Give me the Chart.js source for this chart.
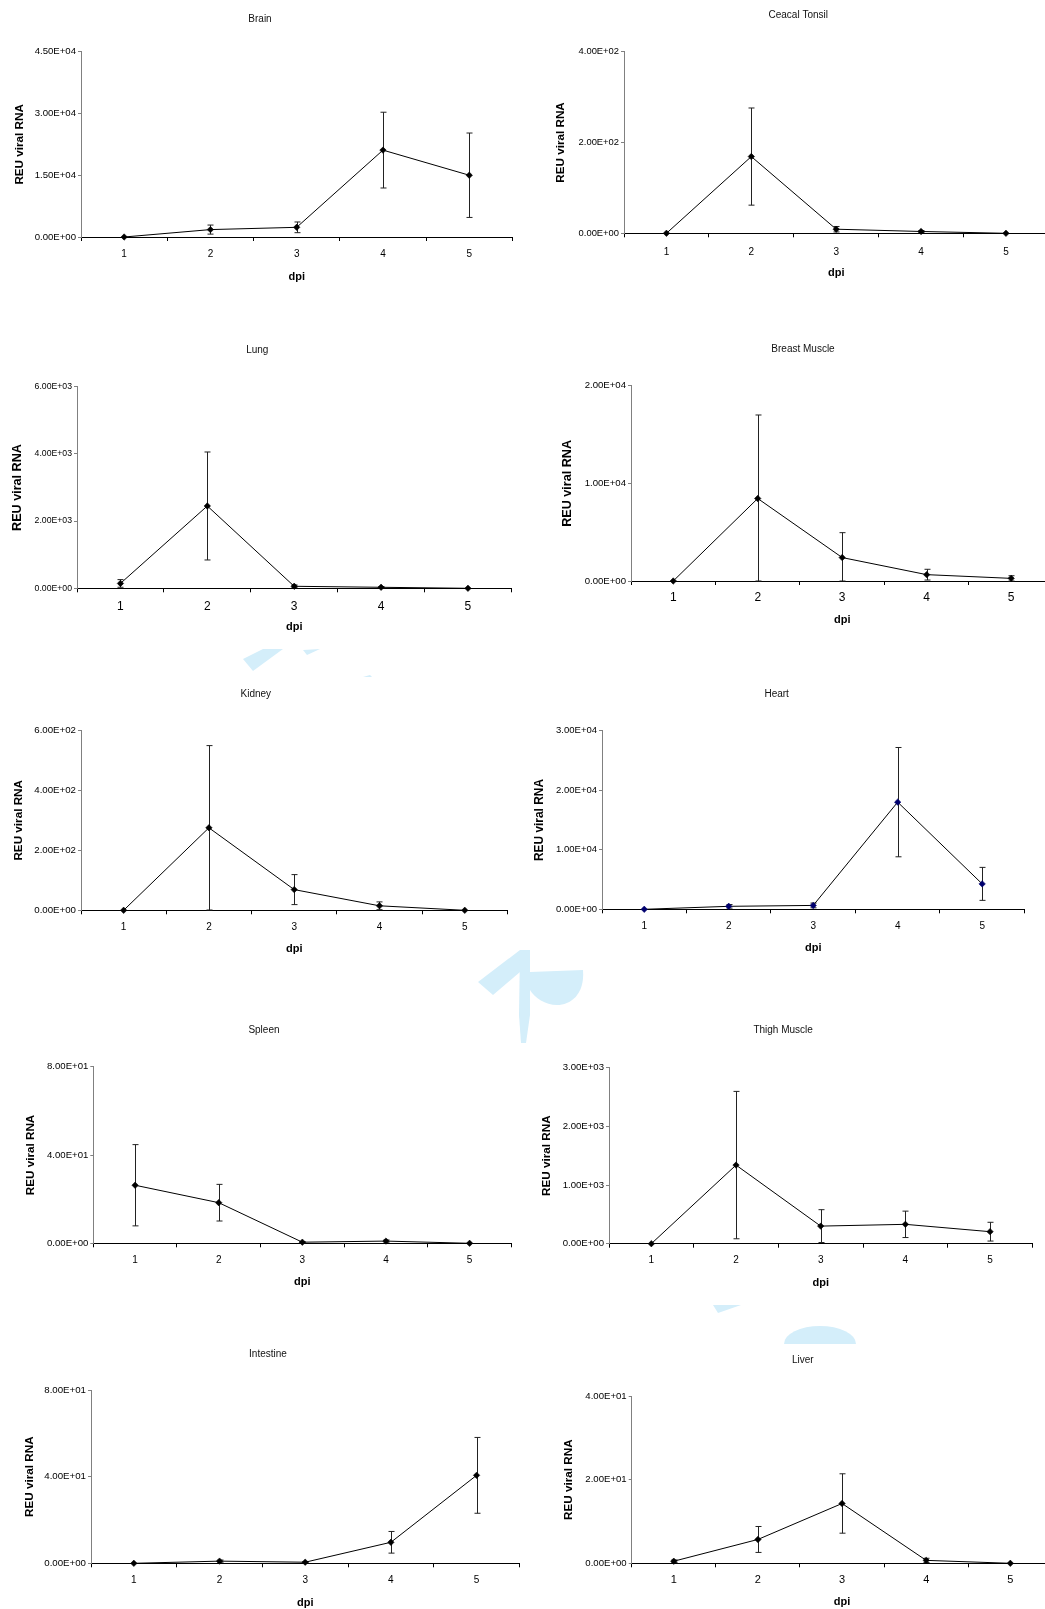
<!DOCTYPE html>
<html>
<head>
<meta charset="utf-8">
<script src="https://cdn.jsdelivr.net/npm/chart.js@4.4.1/dist/chart.umd.min.js"></script>
<style>
  html, body { margin: 0; padding: 0; background: #fff; }
  body { width: 1045px; height: 1609px; overflow: hidden; position: relative; }
  #wm { position: absolute; left: 0; top: 0; z-index: 0; }
  canvas { position: absolute; z-index: 1; }
</style>
</head>
<body>
<svg id="wm" width="1045" height="1609" viewBox="0 0 1045 1609">
  <g fill="#d4eefa">
    <polygon points="263,649 283,649 253,671 243,659"/>
    <polygon points="303,650 320,649 307,655"/>
    <polygon points="363,677 370,675 372,677"/>
    <polygon points="478,982 520,950 520,972 493,995"/>
    <polygon points="520,950 530,950 530,1015 526,1043 521,1043 519,1015"/>
    <path d="M530,972 L583,970 C585,995 570,1005 557,1005 C545,1005 535,998 530,990 Z"/>
    <path d="M784,1344 A36,18 0 0 1 856,1344 Z"/>
    <polygon points="713,1305 741,1305 718,1313"/>
  </g>
</svg>
<script>
// ---------- DATA ----------
const dpiLabels = ['1', '2', '3', '4', '5'];
const organs = ['Brain', 'Ceacal Tonsil', 'Lung', 'Breast Muscle', 'Kidney',
                'Heart', 'Spleen', 'Thigh Muscle', 'Intestine', 'Liver'];

const brainMean = [0, 1800, 2350, 21100, 15000];
const brainErr  = [0, 1100, 1300, 9200, 10250];
const brainTicks = [0, 15000, 30000, 45000];

const tonsilMean = [0, 169, 9, 4, 0];
const tonsilErr  = [0, 107, 6, 2, 0];
const tonsilTicks = [0, 200, 400];

const lungMean = [145, 2450, 60, 30, 0];
const lungErr  = [114, 1607, 40, 20, 0];
const lungTicks = [0, 2000, 4000, 6000];

const breastMean = [0, 8450, 2400, 650, 270];
const breastErr  = [0, 8550, 2550, 550, 270];
const breastTicks = [0, 10000, 20000];

const kidneyMean = [0, 275, 69, 15, 0];
const kidneyErr  = [0, 274, 50, 13, 0];
const kidneyTicks = [0, 200, 400, 600];

const heartMean = [0, 500, 650, 18000, 4270];
const heartErr  = [0, 300, 400, 9180, 2770];
const heartTicks = [0, 10000, 20000, 30000];

const spleenMean = [26.3, 18.4, 0.5, 1, 0];
const spleenErr  = [18.4, 8.3, 0.3, 0.5, 0];
const spleenTicks = [0, 40, 80];

const thighMean = [0, 1340, 300, 330, 205];
const thighErr  = [0, 1256, 280, 225, 160];
const thighTicks = [0, 1000, 2000, 3000];

const intestineMean = [0, 1, 0.5, 9.7, 40.6];
const intestineErr  = [0, 0.5, 0.3, 5, 17.5];
const intestineTicks = [0, 40, 80];

const liverMean = [0.5, 5.7, 14.3, 0.7, 0];
const liverErr  = [0.3, 3.1, 7.1, 0.5, 0];
const liverTicks = [0, 20, 40];

// ---------- LAYOUT (positions / styles only) ----------
const FONT = "'Liberation Sans', Arial, Helvetica, sans-serif";
const panels = [
  { title: organs[0], mean: brainMean, err: brainErr, ticks: brainTicks,
    pl: 81, pr: 513, pt: 51.7, pb: 237, tx: 262, ty: 19, yx: 20, xly: 254, dy: 277, fy: 9.6, fx: 10, fyt: 11.7 },
  { title: organs[1], mean: tonsilMean, err: tonsilErr, ticks: tonsilTicks,
    pl: 624, pr: 1049.5, pt: 51.7, pb: 233.3, tx: 800, ty: 15, yx: 561, xly: 252, dy: 273, fy: 9.4, fx: 10, fyt: 11.7 },
  { title: organs[2], mean: lungMean, err: lungErr, ticks: lungTicks,
    pl: 77, pr: 512.5, pt: 386.7, pb: 588.3, tx: 259, ty: 350, yx: 17.3, xly: 607, dy: 627.3, fy: 8.7, fx: 12, fyt: 12.6 },
  { title: organs[3], mean: breastMean, err: breastErr, ticks: breastTicks,
    pl: 631, pr: 1054, pt: 385.7, pb: 581, tx: 805, ty: 349, yx: 568, xly: 598, dy: 620, fy: 9.6, fx: 12, fyt: 12.6 },
  { title: organs[4], mean: kidneyMean, err: kidneyErr, ticks: kidneyTicks,
    pl: 81, pr: 507.6, pt: 730.3, pb: 910.3, tx: 258, ty: 694, yx: 19, xly: 927, dy: 949, fy: 9.7, fx: 10, fyt: 11.7 },
  { title: organs[5], mean: heartMean, err: heartErr, ticks: heartTicks,
    pl: 602, pr: 1025.3, pt: 730.7, pb: 909.3, tx: 778.7, ty: 694, yx: 540, xly: 926.7, dy: 948, fy: 9.5, fx: 10, fyt: 11.9, marker: '#00006e' },
  { title: organs[6], mean: spleenMean, err: spleenErr, ticks: spleenTicks,
    pl: 93.3, pr: 511.9, pt: 1066.7, pb: 1243.3, tx: 266, ty: 1030, yx: 31, xly: 1260, dy: 1282, fy: 9.6, fx: 10, fyt: 11.7 },
  { title: organs[7], mean: thighMean, err: thighErr, ticks: thighTicks,
    pl: 609, pr: 1033.3, pt: 1067.7, pb: 1243.7, tx: 785, ty: 1030.7, yx: 547, xly: 1260, dy: 1282.7, fy: 9.6, fx: 10, fyt: 11.7 },
  { title: organs[8], mean: intestineMean, err: intestineErr, ticks: intestineTicks,
    pl: 91, pr: 519.9, pt: 1390, pb: 1563.3, tx: 270, ty: 1354, yx: 30, xly: 1580, dy: 1602.7, fy: 9.7, fx: 10, fyt: 11.7 },
  { title: organs[9], mean: liverMean, err: liverErr, ticks: liverTicks,
    pl: 631.7, pr: 1052.7, pt: 1396, pb: 1563.3, tx: 805, ty: 1360, yx: 569, xly: 1580, dy: 1602, fy: 9.6, fx: 11, fyt: 11.7 }
];

function sci(v) {
  const s = Number(v).toExponential(2);
  const parts = s.split('e');
  const sign = parts[1][0] === '-' ? '-' : '+';
  const digits = parts[1].replace(/[+-]/, '').padStart(2, '0');
  return parts[0] + 'E' + sign + digits;
}

const errorBarPlugin = {
  id: 'errorBars',
  beforeDatasetsDraw(chart) {
    const ctx = chart.ctx;
    const ys = chart.scales.y;
    chart.data.datasets.forEach((ds, di) => {
      const meta = chart.getDatasetMeta(di);
      const errs = ds.errorBars || [];
      meta.data.forEach((pt, i) => {
        const v = ds.data[i];
        const e = errs[i];
        if (!e) return;
        const top = ys.getPixelForValue(Math.min(v + e, ys.max));
        const bot = ys.getPixelForValue(Math.max(v - e, ys.min));
        const x = Math.round(pt.x) + 0.5;
        const cap = 3;
        ctx.save();
        ctx.strokeStyle = '#222';
        ctx.lineWidth = 1;
        ctx.beginPath();
        ctx.moveTo(x, top); ctx.lineTo(x, bot);
        ctx.moveTo(x - cap, top); ctx.lineTo(x + cap, top);
        ctx.moveTo(x - cap, bot); ctx.lineTo(x + cap, bot);
        ctx.stroke();
        ctx.restore();
      });
    });
  }
};

Chart.defaults.font.family = FONT;

panels.forEach((p) => {
  const lhT = 10 * 1.2;
  const lhY = p.fyt * 1.2;
  const lhD = 11 * 1.2;
  const lhX = p.fx * 1.2;
  // horizontal extent: centre of canvas = title centre
  let L = Math.round(2 * p.tx - (p.pr + 4));
  const minL = p.yx - lhY / 2;
  if (L > minL) L = Math.floor(minL);
  const R = 2 * p.tx - L;
  const W = Math.round(R - L);
  const yAxisWidth = p.pl - L;
  const yTitlePad = Math.max(0, p.yx - L - lhY / 2);
  const rightPad = Math.max(0, (L + W) - p.pr);
  // vertical extent
  const T = Math.round(p.ty - lhT / 2 - 2);
  const titlePadTop = p.ty - lhT / 2 - T;
  const titlePadBottom = Math.max(0, p.pt - T - titlePadTop - lhT);
  const H = Math.round(p.dy + lhD / 2 + 1 - T);
  const xAxisHeight = (T + H) - p.pb;
  const dpiPad = Math.max(0, (T + H) - p.dy - lhD / 2);
  const xLabelPad = p.xly - p.pb - 4 - lhX / 2;

  const cv = document.createElement('canvas');
  cv.width = W; cv.height = H;
  cv.style.left = L + 'px'; cv.style.top = T + 'px';
  cv.style.width = W + 'px'; cv.style.height = H + 'px';
  document.body.appendChild(cv);

  const tickArr = p.ticks;
  const mk = p.marker || '#000';

  new Chart(cv, {
    type: 'line',
    data: {
      labels: dpiLabels,
      datasets: [{
        data: p.mean,
        errorBars: p.err,
        borderColor: '#000',
        borderWidth: 1,
        tension: 0,
        fill: false,
        clip: false,
        pointStyle: 'rectRot',
        pointRadius: 3.2,
        pointBorderWidth: 0.6,
        pointBackgroundColor: mk,
        pointBorderColor: mk
      }]
    },
    options: {
      responsive: false,
      animation: false,
      devicePixelRatio: window.devicePixelRatio || 1,
      layout: { padding: { left: 0, right: rightPad, top: 0, bottom: 0 } },
      plugins: {
        legend: { display: false },
        tooltip: { enabled: false },
        title: {
          display: true,
          text: p.title,
          color: '#111',
          font: { size: 10, weight: 'normal', family: FONT },
          padding: { top: titlePadTop, bottom: titlePadBottom }
        }
      },
      scales: {
        x: {
          type: 'category',
          offset: true,
          afterFit: (s) => { s.height = xAxisHeight; },
          ticks: { color: '#000', font: { size: p.fx, family: FONT }, padding: xLabelPad, maxRotation: 0, autoSkip: false },
          grid: { offset: true, drawOnChartArea: false, drawTicks: true, tickLength: 4, color: '#000', lineWidth: 1 },
          border: { display: true, color: '#000', width: 1 },
          title: { display: true, text: 'dpi', color: '#000', font: { size: 11, weight: 'bold', family: FONT }, padding: { top: 0, bottom: dpiPad } }
        },
        y: {
          min: tickArr[0],
          max: tickArr[tickArr.length - 1],
          afterBuildTicks: (s) => { s.ticks = tickArr.map(v => ({ value: v })); },
          afterFit: (s) => { s.width = yAxisWidth; },
          ticks: { color: '#000', font: { size: p.fy, family: FONT }, padding: 2, callback: (v) => sci(v) },
          grid: { drawOnChartArea: false, drawTicks: true, tickLength: 3, color: '#808080', lineWidth: 1 },
          border: { display: true, color: '#808080', width: 1 },
          title: { display: true, text: 'REU viral RNA', color: '#000', font: { size: p.fyt, weight: 'bold', family: FONT }, padding: { top: yTitlePad, bottom: 0 } }
        }
      }
    },
    plugins: [errorBarPlugin]
  });
});
</script>
</body>
</html>
